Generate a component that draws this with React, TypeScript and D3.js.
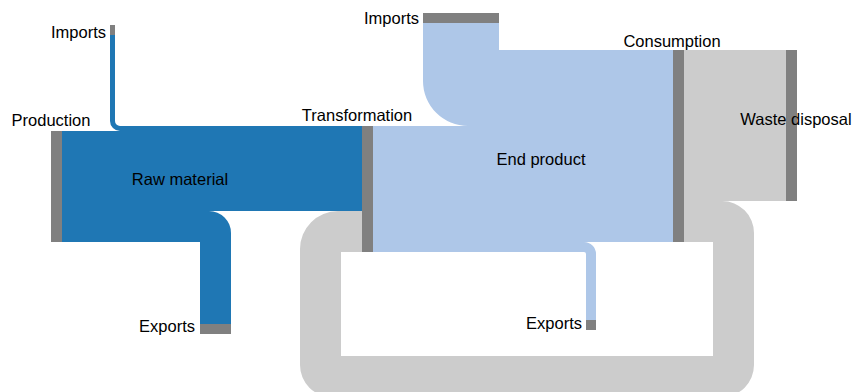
import React from 'react';
import * as d3 from 'd3';

// nodes
const nodeIds = ['importsL', 'production', 'transformation', 'exportsL', 'importsR', 'consumption', 'exportsR', 'waste'];
const nodeNames = ['Imports', 'Production', 'Transformation', 'Exports', 'Imports', 'Consumption', 'Exports', 'Waste disposal'];

// flows
const linkSources = ['importsL', 'production', 'production', 'importsR', 'transformation', 'transformation', 'consumption', 'consumption'];
const linkTargets = ['transformation', 'transformation', 'exportsL', 'consumption', 'consumption', 'exportsR', 'waste', 'transformation'];
const linkValues = [5, 80, 31, 76, 116, 10, 151, 41];
const linkTypes = ['raw', 'raw', 'raw', 'end', 'end', 'end', 'waste', 'waste'];

// material types
const typeIds = ['raw', 'end', 'waste'];
const typeLabels = ['Raw material', 'End product', ''];

const W = 853;
const H = 392;
const NODE_W = 11;
const NODE_H = 10;
const colors = d3.scaleOrdinal<string, string>().domain(typeIds).range(['#1f77b4', '#aec7e8', '#cccccc']);
const k = d3.scaleLinear().domain([0, 100]).range([0, 100]); // px per unit

// node placement; orient 'h' = flow passes left->right, 'down' = flow leaves below, 'up' = flow enters above
const layout: Record<string, any> = {
  importsL: { x: 110, y: 25, orient: 'down', anchor: 'end', dx: -4, dy: 13 },
  production: { x: 51, y: 131, orient: 'h', anchor: 'middle', dx: 0, dy: -5 },
  transformation: { x: 362, y: 126, orient: 'h', anchor: 'middle', dx: -5, dy: -5 },
  exportsL: { x: 200, y: 324, orient: 'up', anchor: 'end', dx: -5, dy: 8 },
  importsR: { x: 423, y: 13, orient: 'down', anchor: 'end', dx: -4, dy: 11 },
  consumption: { x: 673, y: 50, orient: 'h', anchor: 'middle', dx: -1, dy: -3 },
  exportsR: { x: 586, y: 320, orient: 'up', anchor: 'end', dx: -4, dy: 9 },
  waste: { x: 786, y: 50, orient: 'h', anchor: 'middle', dx: 10, dy: 75 },
};
// outer corner radius for each link's bends
const linkRadii: number[][] = [[10], [], [22], [45], [], [12], [], [32, 32, 32, 38]];
const loop = { right: 49.5, bottom: 376.5, left: 41.5 };
// flow type label placement
const typeLabelPos: Record<string, number[]> = { raw: [180, 185], end: [541, 165] };

function bandPath(pts: number[][], w: number, radii: number[]) {
  const hw = w / 2;
  const n = pts.length;
  const dirs = d3.range(n - 1).map((i) => [
    Math.sign(pts[i + 1][0] - pts[i][0]),
    Math.sign(pts[i + 1][1] - pts[i][1]),
  ]);
  const norm = (d: number[]) => [-d[1], d[0]];
  const side = (s: number) =>
    pts.map((p, i) => {
      let ox = 0;
      let oy = 0;
      if (i > 0) { const m = norm(dirs[i - 1]); ox += m[0]; oy += m[1]; }
      if (i < n - 1) { const m = norm(dirs[i]); ox += m[0]; oy += m[1]; }
      return [p[0] + s * hw * ox, p[1] + s * hw * oy];
    });
  const cross = (i: number) => dirs[i - 1][0] * dirs[i][1] - dirs[i - 1][1] * dirs[i][0];
  const rad = (i: number, s: number) => {
    const R = radii[i - 1] ?? 0;
    const outer = s > 0 ? cross(i) < 0 : cross(i) > 0;
    return outer ? R : Math.max(0, R - w);
  };
  const A = side(1);
  const B = side(-1);
  const p = d3.path();
  p.moveTo(A[0][0], A[0][1]);
  for (let i = 1; i < n - 1; i++) p.arcTo(A[i][0], A[i][1], A[i + 1][0], A[i + 1][1], rad(i, 1));
  p.lineTo(A[n - 1][0], A[n - 1][1]);
  p.lineTo(B[n - 1][0], B[n - 1][1]);
  for (let i = n - 2; i > 0; i--) p.arcTo(B[i][0], B[i][1], B[i - 1][0], B[i - 1][1], rad(i, -1));
  p.lineTo(B[0][0], B[0][1]);
  p.closePath();
  return p.toString();
}

function buildGraph() {
  const nodes = nodeIds.map((id, i) => {
    const inSum = d3.sum(linkValues.filter((_, j) => linkTargets[j] === id));
    const outSum = d3.sum(linkValues.filter((_, j) => linkSources[j] === id));
    const size = k(Math.max(inSum, outSum));
    const L = layout[id];
    const horiz = L.orient === 'h';
    return {
      id,
      name: nodeNames[i],
      ...L,
      x0: L.x,
      y0: L.y,
      x1: L.x + (horiz ? NODE_W : size),
      y1: L.y + (horiz ? size : NODE_H),
      inOff: 0,
      outOff: 0,
    };
  });
  const byId = new Map(nodes.map((d) => [d.id, d]));
  const links = linkValues.map((v, i) => {
    const s = byId.get(linkSources[i])!;
    const t = byId.get(linkTargets[i])!;
    const w = k(v);
    const start = s.orient === 'h'
      ? [s.x1, s.y0 + s.outOff + w / 2]
      : [s.x0 + s.outOff + w / 2, s.y1];
    const end = t.orient === 'h'
      ? [t.x0, t.y0 + t.inOff + w / 2]
      : [t.x0 + t.inOff + w / 2, t.y0];
    s.outOff += w;
    t.inOff += w;
    let pts: number[][];
    if (s.orient === 'down') pts = [start, [start[0], end[1]], end];
    else if (t.orient === 'up') pts = [start, [end[0], start[1]], end];
    else if (end[0] < start[0]) {
      const xr = start[0] + loop.right;
      const xl = end[0] - loop.left;
      pts = [start, [xr, start[1]], [xr, loop.bottom], [xl, loop.bottom], [xl, end[1]], end];
    } else pts = [start, end];
    return { i, type: linkTypes[i], w, d: bandPath(pts, w, linkRadii[i]) };
  });
  return { nodes, links };
}

export default function App() {
  const { nodes, links } = buildGraph();
  const font = 'Liberation Sans, Arial, sans-serif';
  return (
    <svg width={W} height={H} style={{ position: 'absolute', left: 0, top: 0, overflow: 'hidden' }}>
      <g>
        {links.map((l) => (
          <path key={l.i} d={l.d} fill={colors(l.type)} />
        ))}
      </g>
      <g fill="#808080">
        {nodes.map((n) => (
          <rect key={n.id} x={n.x0} y={n.y0} width={n.x1 - n.x0} height={n.y1 - n.y0} />
        ))}
      </g>
      <g fontFamily={font} fontSize={16.5} fill="#000">
        {nodes.map((n) => (
          <text key={n.id} x={n.x0 + n.dx} y={n.y0 + n.dy} textAnchor={n.anchor}>
            {n.name}
          </text>
        ))}
        {typeIds.filter((t, i) => typeLabels[i]).map((t) => (
          <text key={t} x={typeLabelPos[t][0]} y={typeLabelPos[t][1]} textAnchor="middle">
            {typeLabels[typeIds.indexOf(t)]}
          </text>
        ))}
      </g>
    </svg>
  );
}
